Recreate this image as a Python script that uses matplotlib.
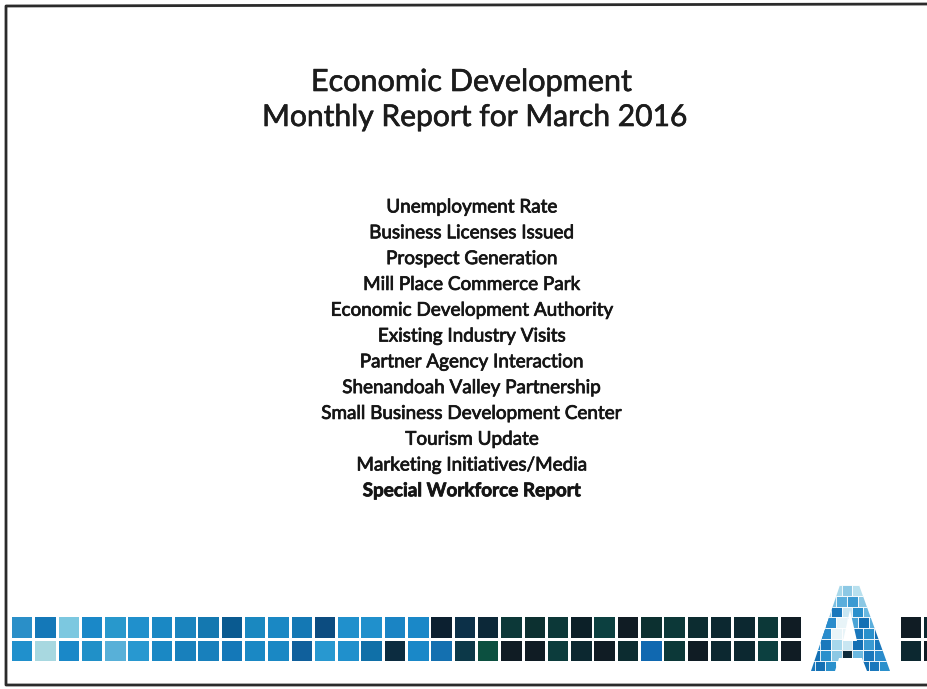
import matplotlib
matplotlib.use("Agg")
import matplotlib.pyplot as plt
import matplotlib.patheffects as pe
from matplotlib.patches import Rectangle, Polygon

# slide text
title_lines = ["Economic Development", "Monthly Report for March 2016"]
agenda_items = [
    "Unemployment Rate",
    "Business Licenses Issued",
    "Prospect Generation",
    "Mill Place Commerce Park",
    "Economic Development Authority",
    "Existing Industry Visits",
    "Partner Agency Interaction",
    "Shenandoah Valley Partnership",
    "Small Business Development Center",
    "Tourism Update",
    "Marketing Initiatives/Media",
    "Special Workforce Report",
]
bold_items = ["Special Workforce Report"]

# colours of the mosaic strip, left to right (top row / bottom row)
strip_top = [
    "#2a8fc8", "#1478b8", "#7cc8e0", "#1a88c8", "#2898cc", "#2090cc",
    "#1a88c4", "#1a84be", "#1478b0", "#0a5a90", "#1a88c0", "#1a88c4",
    "#1478b4", "#0c4c80", "#2090cc", "#2090cc", "#1a84c4", "#1a88c8",
    "#0c2030", "#0c3048", "#0c2838", "#0c3838", "#0c3030", "#0c3838",
    "#0c2028", "#0c4040", "#101c24", "#0c3030", "#0c3838", "#0c2c30",
    "#0c2830", "#0c2830", "#0c3838", "#101c24",
]
strip_bottom = [
    "#2090cc", "#a8d8e0", "#1a88c8", "#2090c8", "#58b0d8", "#2898d0",
    "#1a88c4", "#1880bc", "#1880bc", "#1478b8", "#1a88c4", "#1a88c4",
    "#10609c", "#2898d0", "#2090cc", "#1070a8", "#0c2c40", "#1a88c8",
    "#1470b0", "#0c3848", "#0c5040", "#101c24", "#101c24", "#0c3c3c",
    "#0c2830", "#101c24", "#0c2c30", "#1068b0", "#0c3838", "#101c24",
    "#0c2830", "#0c2830", "#0c4040", "#101c24",
]
# squares right of the logo (cut off by the page edge)
tail_top = ["#101c24", "#0c2830"]
tail_bottom = ["#0c2830", "#101c24"]

# colours of the small tiles inside the "A" logo, row by row
logo_rows = [
    ["#a8d8ea", "#8cc8e4", "#b8e0ee"],
    ["#7cc0e2", "#5aaedc", "#3a9ad2", "#8cc8e4"],
    ["#8cc8e4", "#1a78bc", "#c8e6f2", "#2a90cc", "#6ab8e0"],
    ["#1a78bc", "#2a8ccc", "#e8f4f8", "#4aa4d6", "#1470b4", "#5aaedc"],
    ["#1470b4", "#2a8ccc", "#e8f4f8", "#e8f4f8", "#1a78bc", "#2a90cc", "#1470b4"],
    ["#2a8ccc", "#1a78bc", "#a8d8ec", "#c8e6f2", "#1470b4", "#3a9ad2", "#1a78bc"],
    ["#1470b4", "#2a90cc", "#8cc8e4", "#0e2a3a", "#6ab8e0", "#1a78bc", "#2a8ccc"],
    ["#1a78bc", "#1470b4", "#2a90cc", "#ffffff", "#ffffff", "#1470b4", "#1a78bc", "#2a90cc"],
]

W, H = 928, 689
fig = plt.figure(figsize=(W / 100, H / 100), dpi=100)
ax = fig.add_axes([0, 0, 1, 1])
ax.set_xlim(0, W)
ax.set_ylim(H, 0)
ax.axis("off")

# slide border (right edge is outside the scan)
ax.plot([W, 6, 6, W], [4, 6, 685, 685], color="#2b2b2b", lw=2.0)

# scanned text looks heavier -> thin stroke around glyphs
heavy_title = [pe.withStroke(linewidth=0.45, foreground="#1a1a1a")]
heavy = [pe.withStroke(linewidth=0.55, foreground="#1a1a1a")]

# title
fam = ["Lato", "DejaVu Sans"]
ax.text(471, 82, title_lines[0], ha="center", va="center", fontsize=22,
        family=fam, color="#1c1c1c", path_effects=heavy_title)
ax.text(475, 117, title_lines[1], ha="center", va="center", fontsize=21.6,
        family=fam, color="#1c1c1c", path_effects=heavy_title)

# agenda list
y0, dy = 207, 25.8
for i, item in enumerate(agenda_items):
    wt = "bold" if item in bold_items else "normal"
    ax.text(472, y0 + i * dy, item, ha="center", va="center", fontsize=13.6,
            family=fam, fontweight=wt, color="#151515", path_effects=heavy)

# mosaic strip
x0, pitch, side = 12, 23.3, 20.5
row_y = [617, 640.5]
for i, (ct, cb) in enumerate(zip(strip_top, strip_bottom)):
    x = x0 + i * pitch
    ax.add_patch(Rectangle((x, row_y[0]), side, side, color=ct, lw=0))
    ax.add_patch(Rectangle((x, row_y[1]), side, side, color=cb, lw=0))
for i, (ct, cb) in enumerate(zip(tail_top, tail_bottom)):
    x = 901 + i * pitch
    ax.add_patch(Rectangle((x, row_y[0]), side, side, color=ct, lw=0))
    ax.add_patch(Rectangle((x, row_y[1]), side, side, color=cb, lw=0))

# "A" logo made of tiles, clipped to an A outline
outline = Polygon([(811, 671), (840, 585), (859, 585), (890, 671), (867, 671),
                   (862, 658), (839, 658), (835, 671)], closed=True,
                  facecolor="none", edgecolor="none")
ax.add_patch(outline)
hole = Polygon([(850, 610), (857, 641), (843, 641)], closed=True,
               facecolor="white", edgecolor="none", zorder=3)
tile = 10.8
for r, row in enumerate(logo_rows):
    ty = 585 + r * tile
    n = len(row)
    cx = 850
    for c, col in enumerate(row):
        tx = cx - n * tile / 2 + c * tile
        p = Rectangle((tx - 3, ty), tile + 6 if c in (0, n - 1) else tile, tile,
                      facecolor=col, edgecolor="white", lw=0.6)
        ax.add_patch(p)
        p.set_clip_path(outline)
ax.add_patch(hole)

fig.savefig("out.png", dpi=100, facecolor="white")
